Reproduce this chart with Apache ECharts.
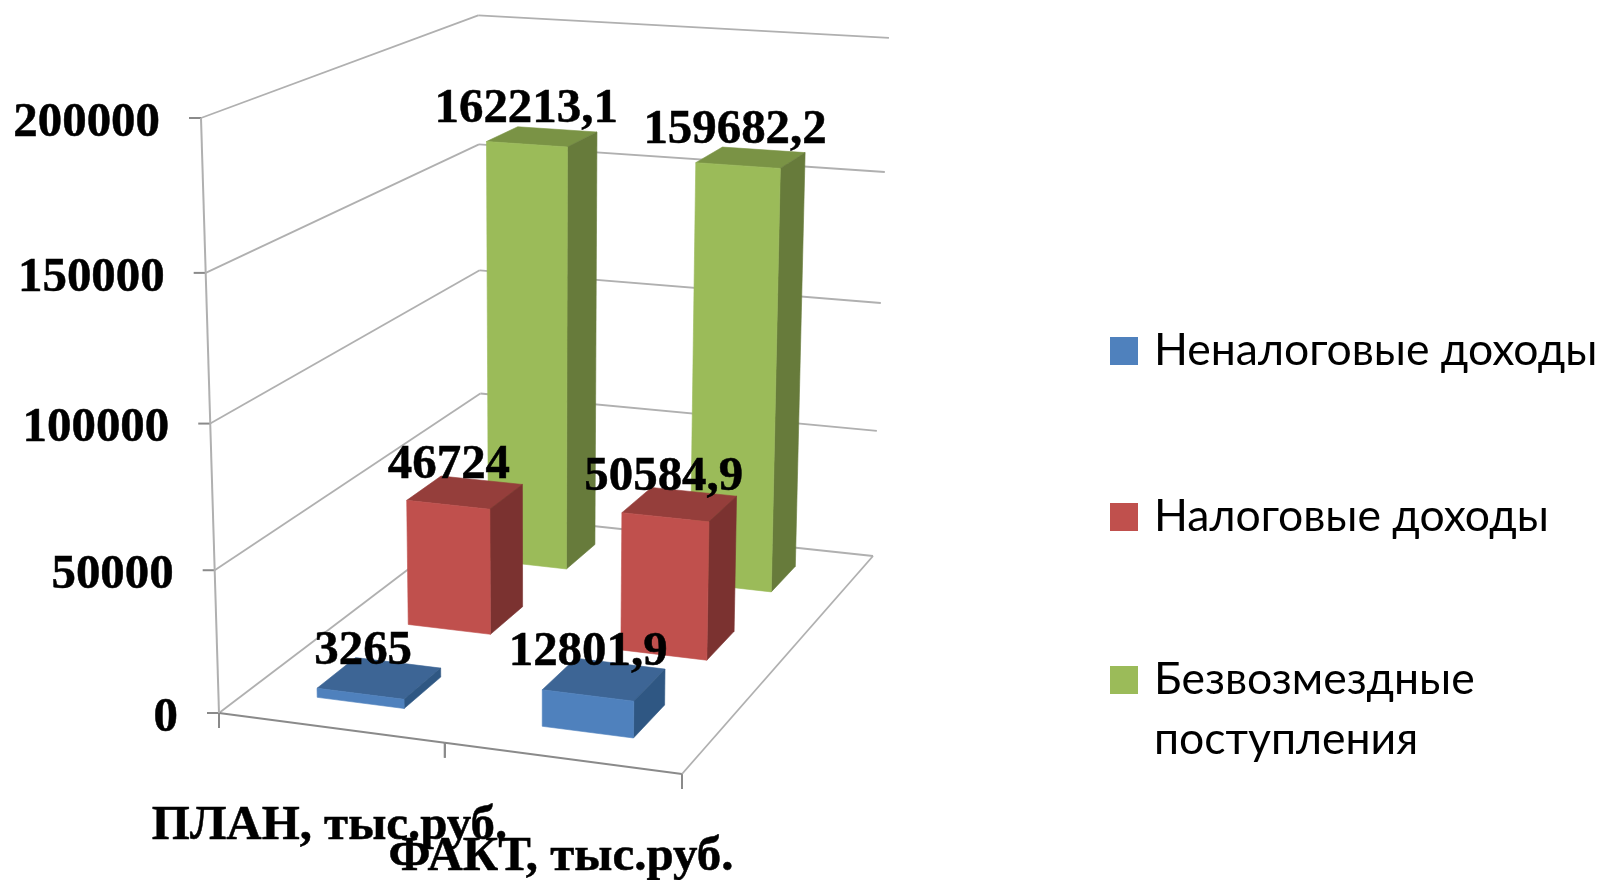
<!DOCTYPE html>
<html>
<head>
<meta charset="utf-8">
<style>html,body{margin:0;padding:0;background:#fff}#c{width:1602px;height:880px}</style>
<script src="https://cdn.jsdelivr.net/npm/echarts@6/dist/echarts.min.js"></script>
</head>
<body>
<div id="c"></div>
<script>
const categories = ['ПЛАН, тыс.руб.', 'ФАКТ, тыс.руб.'];
const yTicks = [0, 50000, 100000, 150000, 200000];
const nonTaxIncome = [3265, 12801.9];
const taxIncome = [46724, 50584.9];
const grants = [162213.1, 159682.2];
const seriesNames = ['Неналоговые доходы', 'Налоговые доходы', 'Безвозмездные поступления'];

// Perspective box: floor corners, vertical vanishing point, wall height factor
const A = [219, 713], B = [682, 774], C = [873, 556], D = [481, 514];
const V = [540.7, 11347], K = -0.05299;
const dx1 = B[0]-C[0], dx2 = D[0]-C[0], sx = A[0]-B[0]+C[0]-D[0];
const dy1 = B[1]-C[1], dy2 = D[1]-C[1], sy = A[1]-B[1]+C[1]-D[1];
const det = dx1*dy2 - dx2*dy1;
const g = (sx*dy2 - dx2*sy)/det, h = (dx1*sy - sx*dy1)/det;
function project(u, v, w) {
  const px = (((1+g)*B[0]-A[0])*u + ((1+h)*D[0]-A[0])*w + A[0]) + v*K*V[0];
  const py = (((1+g)*B[1]-A[1])*u + ((1+h)*D[1]-A[1])*w + A[1]) + v*K*V[1];
  const pw = 1 + g*u + h*w + v*K;
  return [px/pw, py/pw];
}
const GRID = {left: 100, top: 100, width: 600, height: 600};
function fracU(api, cat) { const cs = GRID; return (api.coord([cat, 0])[0]-cs.left)/cs.width; }
function fracV(api, val) { const cs = GRID; return 1-(api.coord([0, val])[1]-cs.top)/cs.height; }

const SERIF = 'bold 48.9px "Liberation Serif"';
const serifStyle = {font:SERIF, fill:'#000', stroke:'#000', lineWidth:0.5};
const HALF_U = 0.098, FRONT_W = 0.0635, BACK_W = 0.0725;
const poly = (pts, fill) => ({type:'polygon', shape:{points:pts}, style:{fill, stroke:fill, lineWidth:0.6}});
const seg = (p, q, color, w) => ({type:'line', shape:{x1:p[0],y1:p[1],x2:q[0],y2:q[1]}, style:{stroke:color, lineWidth:w, fill:null}});

function barSeries(name, values, depth, colors, z) {
  return {
    name, type:'custom', z, coordinateSystem:'cartesian2d', silent:true, clip:false,
    itemStyle:{color:colors[0]},
    data: values.map((v,i)=>[i,v]),
    renderItem(params, api) {
      const uc = fracU(api, api.value(0)), v = fracV(api, api.value(1));
      const u0=uc-HALF_U, u1=uc+HALF_U, w0=depth-FRONT_W, w1=depth+BACK_W;
      const f0=project(u0,0,w0), f1=project(u1,0,w0), b1=project(u1,0,w1);
      const t0=project(u0,v,w0), t1=project(u1,v,w0), t2=project(u1,v,w1), t3=project(u0,v,w1);
      const lab = project(uc, v, depth);
      return {type:'group', children:[
        poly([t0,t1,t2,t3], colors[2]),
        poly([f1,b1,t2,t1], colors[1]),
        poly([f0,f1,t1,t0], colors[0]),
        {type:'text', x:lab[0]-15, y:lab[1]-28, z2:10, style:{
          ...serifStyle, text:String(api.value(1)).replace('.',','), align:'center', verticalAlign:'middle'}}
      ]};
    }
  };
}

const WALL = '#b0b0b0', AXIS = '#8a8a8a';
const wallSeries = {
  name:'walls', type:'custom', z:1, coordinateSystem:'cartesian2d', silent:true, clip:false,
  data: yTicks.map(t=>[0,t]),
  renderItem(params, api) {
    const val = api.value(1), v = fracV(api, val);
    const a = project(0,v,0), d = project(0,v,1), c = project(1,v,1);
    return {type:'group', children:[
      seg(a,d,WALL,1.8), seg(d,c,WALL,1.8),
      seg([a[0]-12,a[1]],a,AXIS,2),
      {type:'text', x:a[0]-41, y:a[1]+5, style:{...serifStyle, text:String(val), align:'right', verticalAlign:'middle'}}
    ]};
  }
};
const floorSeries = {
  name:'floor', type:'custom', z:1, coordinateSystem:'cartesian2d', silent:true, clip:false,
  data: categories.map((c,i)=>[i,0]),
  renderItem(params, api) {
    const i = api.value(0), uc = fracU(api, i), u0 = uc-0.25, u1 = uc+0.25;
    const p0 = project(u0,0,0), p1 = project(u1,0,0), m = project(uc,0,0);
    const kids = [
      seg(p0,p1,AXIS,1.8),
      seg(p1,[p1[0],p1[1]+15],AXIS,2),
      seg(p0,[p0[0],p0[1]+15],AXIS,2),
      {type:'text', x:m[0]-1, y:m[1]+99, z2:10, style:{...serifStyle, text:categories[i], align:'center', verticalAlign:'middle'}}
    ];
    if (i === 0) kids.push(seg(project(0,0,0), project(0,1,0), WALL, 2));
    if (i === 1) kids.push(seg(project(1,0,0), project(1,0,1), WALL, 1.8));
    return {type:'group', children:kids};
  }
};

const legendText = {fontFamily:'Lato', fontSize:44.5, color:'#000', lineHeight:60, padding:[0,0,0,11]};
const chart = echarts.init(document.getElementById('c'), null, {renderer:'canvas'});
chart.setOption({
  animation:false,
  backgroundColor:'#fff',
  grid:{left:GRID.left, top:GRID.top, width:GRID.width, height:GRID.height},
  xAxis:{type:'category', data:categories, show:false},
  yAxis:{type:'value', min:0, max:200000, interval:50000, show:false},
  legend:[
    {data:[seriesNames[0],seriesNames[1]], orient:'vertical', left:1110, top:321, padding:0, itemGap:106,
     itemWidth:28, itemHeight:28, icon:'rect', itemStyle:{borderWidth:0}, selectedMode:false, textStyle:legendText},
    {data:[seriesNames[2]], orient:'vertical', left:1110, top:590, padding:0,
     itemWidth:28, itemHeight:28, icon:'rect', itemStyle:{borderWidth:0}, selectedMode:false, textStyle:legendText,
     formatter:()=>'\nБезвозмездные\nпоступления'}
  ],
  series:[
    wallSeries,
    floorSeries,
    barSeries(seriesNames[2], grants, 5/6, ['#9BBB59','#677B3B','#7A9345'], 3),
    barSeries(seriesNames[1], taxIncome, 1/2, ['#C0504D','#7B3230','#953E3B'], 4),
    barSeries(seriesNames[0], nonTaxIncome, 1/6, ['#4F81BD','#2F5783','#3D6595'], 5)
  ]
});
</script>
</body>
</html>
